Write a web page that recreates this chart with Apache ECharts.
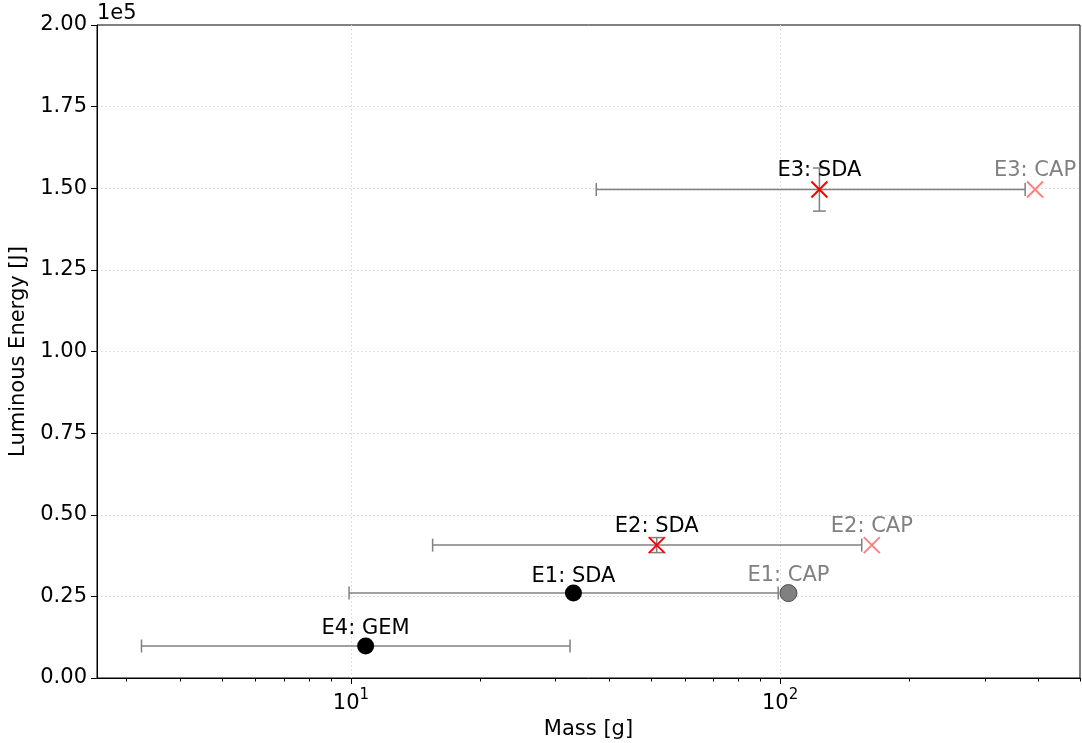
<!DOCTYPE html>
<html>
<head>
<meta charset="utf-8">
<title>Luminous Energy vs Mass</title>
<script src="https://cdn.jsdelivr.net/npm/echarts@6/dist/echarts.min.js"></script>
<style>
  html, body { margin: 0; padding: 0; background: #fff; }
  #chart { width: 1082px; height: 743px; }
</style>
</head>
<body>
<div id="chart"></div>
<script>
// Primary estimates (SDA / GEM) with their mass ranges and energy uncertainty
const primaryLabels = ['E1: SDA', 'E2: SDA', 'E3: SDA', 'E4: GEM'];
const primaryMass = [33.0, 51.6, 123.5, 10.82];
const primaryEnergy = [26000, 40700, 149600, 9800];
const massLow = [9.9, 15.5, 37.3, 3.25];
const massHigh = [99, 155, 372.5, 32.4];
const energyErr = [0, 2300, 6600, 0];

// CAP estimates
const capLabels = ['E1: CAP', 'E2: CAP', 'E3: CAP'];
const capMass = [104.6, 163.6, 392.8];
const capEnergy = [26000, 40700, 149600];

// Axis ticks
const majorMassTicks = [10, 100];
const minorMassTicks = [3, 4, 5, 6, 7, 8, 9, 20, 30, 40, 50, 60, 70, 80, 90, 200, 300, 400, 500];

const FONT = 'DejaVu Sans';
const FS = 21;
const X_PATH = 'path://M0,0L10,10M10,0L0,10';
const crossExperiments = ['E2', 'E3'];
const isCross = label => crossExperiments.indexOf(label.split(':')[0]) >= 0;

const primaryData = primaryLabels.map((name, i) => {
  const cross = isCross(name);
  return {
    name,
    value: [primaryMass[i], primaryEnergy[i]],
    symbol: cross ? X_PATH : 'circle',
    symbolSize: cross ? 16 : 17,
    itemStyle: cross
      ? { color: 'none', borderColor: '#ff0000', borderWidth: 2, opacity: 1 }
      : { color: '#000000', borderWidth: 0, opacity: 1 }
  };
});

const capData = capLabels.map((name, i) => {
  const cross = isCross(name);
  return {
    name,
    value: [capMass[i], capEnergy[i]],
    symbol: cross ? X_PATH : 'circle',
    symbolSize: cross ? 16 : 17,
    itemStyle: cross
      ? { color: 'none', borderColor: '#ff8080', borderWidth: 2, opacity: 1 }
      : { color: '#808080', borderColor: '#4a4a4a', borderWidth: 1, opacity: 1 }
  };
});

const errorData = primaryLabels.map((name, i) => [
  primaryMass[i], primaryEnergy[i], massLow[i], massHigh[i], energyErr[i]
]);

const chart = echarts.init(document.getElementById('chart'), null, { renderer: 'canvas' });

chart.setOption({
  animation: false,
  backgroundColor: '#ffffff',
  textStyle: { fontFamily: FONT },
  grid: {
    left: 97, right: 2, top: 25, bottom: 65,
    outerBoundsMode: 'none', containLabel: false,
    show: true, borderColor: '#000000', borderWidth: 1, backgroundColor: 'transparent'
  },
  graphic: [{
    type: 'text', left: 97, top: 3,
    style: { text: '1e5', font: FS + 'px "' + FONT + '"', fill: '#000' }
  }],
  xAxis: [{
    type: 'log', logBase: 10, min: 2.56, max: 500, position: 'bottom',
    name: 'Mass [g]', nameLocation: 'middle', nameGap: 37,
    nameTextStyle: { fontSize: FS, fontFamily: FONT, color: '#000' },
    axisLine: { show: true, lineStyle: { color: '#000', width: 1 } },
    axisTick: { show: true, customValues: majorMassTicks, length: 6, lineStyle: { color: '#000', width: 1 } },
    axisLabel: {
      customValues: majorMassTicks, margin: 10, color: '#000',
      formatter: v => '{b|10}{s|' + Math.round(Math.log10(v)) + '}',
      rich: {
        b: { fontSize: FS, fontFamily: FONT, color: '#000', lineHeight: 26, verticalAlign: 'bottom' },
        s: { fontSize: 15, fontFamily: FONT, color: '#000', lineHeight: 15, verticalAlign: 'top' }
      }
    },
    splitLine: { show: true, lineStyle: { color: '#d4d4d4', type: [1.5, 2.5], width: 1 } },
    minorTick: { show: false }
  }, {
    type: 'log', logBase: 10, min: 2.56, max: 500, position: 'bottom',
    axisLine: { show: false },
    axisTick: { show: true, customValues: minorMassTicks, length: 3.5, lineStyle: { color: '#000', width: 1 } },
    axisLabel: { show: false },
    splitLine: { show: false }
  }],
  yAxis: {
    type: 'value', min: 0, max: 200000, interval: 25000,
    name: 'Luminous Energy [J]', nameLocation: 'middle', nameGap: 60,
    nameTextStyle: { fontSize: FS, fontFamily: FONT, color: '#000' },
    axisLine: { show: true, lineStyle: { color: '#000', width: 1 } },
    axisTick: { show: true, length: 6, lineStyle: { color: '#000', width: 1 } },
    axisLabel: {
      fontSize: FS, fontFamily: FONT, color: '#000', margin: 10,
      formatter: v => (v / 1e5).toFixed(2)
    },
    splitLine: {
      show: true, showMinLine: false, showMaxLine: false,
      lineStyle: { color: '#d4d4d4', type: [1.5, 2.5], width: 1 }
    }
  },
  series: [{
    type: 'custom',
    xAxisIndex: 0,
    data: errorData,
    encode: { x: [0, 2, 3], y: [1] },
    z: 1,
    renderItem: (params, api) => {
      const x = api.value(0), y = api.value(1);
      const lo = api.value(2), hi = api.value(3), ey = api.value(4);
      const pL = api.coord([lo, y]);
      const pR = api.coord([hi, y]);
      const cap = 6.5;
      const style = { stroke: '#808080', lineWidth: 1.5, fill: null };
      const line = (x1, y1, x2, y2) => ({ type: 'line', shape: { x1, y1, x2, y2 }, style });
      const children = [
        line(pL[0], pL[1], pR[0], pR[1]),
        line(pL[0], pL[1] - cap, pL[0], pL[1] + cap),
        line(pR[0], pR[1] - cap, pR[0], pR[1] + cap)
      ];
      if (ey > 0) {
        const pT = api.coord([x, y + ey]);
        const pB = api.coord([x, y - ey]);
        children.push(line(pT[0], pT[1], pB[0], pB[1]));
        children.push(line(pT[0] - cap, pT[1], pT[0] + cap, pT[1]));
        children.push(line(pB[0] - cap, pB[1], pB[0] + cap, pB[1]));
      }
      return { type: 'group', children };
    }
  }, {
    type: 'scatter',
    xAxisIndex: 0,
    data: capData,
    z: 3,
    label: {
      show: true, position: 'top', distance: 3, offset: [0, 5],
      formatter: p => p.name,
      fontSize: FS, fontFamily: FONT, color: '#808080'
    },
    emphasis: { disabled: true }
  }, {
    type: 'scatter',
    xAxisIndex: 0,
    data: primaryData,
    z: 4,
    label: {
      show: true, position: 'top', distance: 3, offset: [0, 5],
      formatter: p => p.name,
      fontSize: FS, fontFamily: FONT, color: '#000000'
    },
    emphasis: { disabled: true }
  }]
});
</script>
</body>
</html>
